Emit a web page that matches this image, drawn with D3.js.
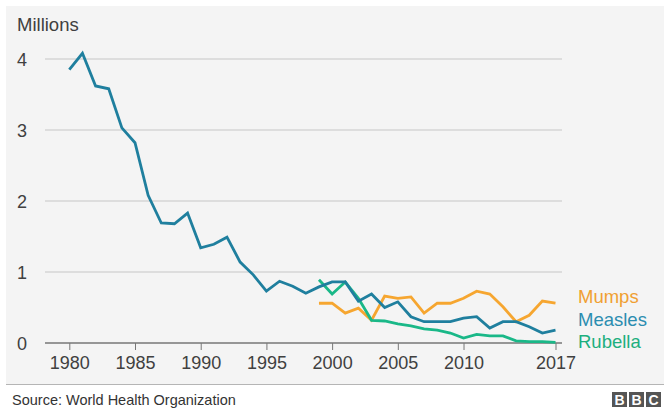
<!DOCTYPE html>
<html><head><meta charset="utf-8">
<script src="https://cdn.jsdelivr.net/npm/d3@7"></script>
<style>
html,body{margin:0;padding:0;background:#fff;}
svg{display:block;font-family:"Liberation Sans",Arial,Helvetica,sans-serif;}
</style></head>
<body>
<svg id="chart" width="664" height="410"></svg>
<script>
const measlesYears = d3.range(1980, 2018);
const measles = [3.85,4.08,3.62,3.58,3.03,2.82,2.08,1.69,1.68,1.83,1.34,1.39,1.49,1.14,0.96,0.73,0.87,0.80,0.70,0.79,0.86,0.86,0.59,0.69,0.50,0.58,0.37,0.30,0.30,0.30,0.35,0.37,0.21,0.30,0.30,0.23,0.14,0.18];
const lateYears = d3.range(1999, 2018);
const mumps = [0.56,0.56,0.42,0.49,0.32,0.66,0.63,0.65,0.42,0.56,0.56,0.63,0.73,0.69,0.51,0.30,0.39,0.59,0.56];
const rubella = [0.89,0.69,0.86,0.63,0.32,0.31,0.27,0.24,0.20,0.18,0.14,0.07,0.12,0.10,0.10,0.03,0.02,0.02,0.01];
const yTicks = [0,1,2,3,4];
const xTicks = [1980,1985,1990,1995,2000,2005,2010,2017];
const seriesNames = ["Mumps","Measles","Rubella"];

const svg = d3.select("#chart");
svg.append("rect").attr("x",6).attr("y",6).attr("width",658).attr("height",378).attr("fill","#f4f4f4");
svg.append("line").attr("x1",6).attr("x2",664).attr("y1",384.5).attr("y2",384.5).attr("stroke","#b5b5b5").attr("stroke-width",1);

const x = d3.scaleLinear().domain([1980,2017]).range([69.3,555.5]);
const y = d3.scaleLinear().domain([0,4]).range([343,59]);

// gridlines
svg.append("g").selectAll("line").data(yTicks.filter(d=>d>0)).join("line")
  .attr("x1",45).attr("x2",562).attr("y1",d=>y(d)).attr("y2",d=>y(d))
  .attr("stroke","#d6d6d6").attr("stroke-width",1.5);

// y labels
svg.append("g").selectAll("text").data(yTicks).join("text")
  .attr("x",17).attr("y",d=>y(d)+6.5).text(d=>d)
  .attr("font-size",18).attr("fill","#404040");
svg.append("text").attr("x",17).attr("y",30.5).text("Millions").attr("font-size",18.5).attr("fill","#404040");

// x axis
const xAxis = d3.axisBottom(x).tickValues(xTicks).tickFormat(d3.format("d")).tickSize(7).tickPadding(6);
const gx = svg.append("g").attr("transform","translate(0,343)").call(xAxis);
gx.select(".domain").remove();
gx.selectAll(".tick line").attr("stroke","#777").attr("stroke-width",1);
gx.selectAll(".tick text").attr("font-size",18).attr("fill","#404040").attr("font-family","Liberation Sans, Arial, sans-serif");
svg.append("line").attr("x1",45).attr("x2",562).attr("y1",343).attr("y2",343).attr("stroke","#777").attr("stroke-width",1.5);

const line = d3.line().x(d=>x(d[0])).y(d=>y(d[1]));
const series = [
  {name:"Measles", years:measlesYears, vals:measles, color:"#1f7f9e"},
  {name:"Mumps", years:lateYears, vals:mumps, color:"#f6a630"},
  {name:"Rubella", years:lateYears, vals:rubella, color:"#1ab888"}
];
const order = ["Mumps","Rubella","Measles"];
order.forEach(n=>{
  const s = series.find(q=>q.name===n);
  svg.append("path").datum(s.years.map((yr,i)=>[yr,s.vals[i]]))
    .attr("d",line).attr("fill","none").attr("stroke",s.color)
    .attr("stroke-width",2.8).attr("stroke-linejoin","miter");
});

const legendColors = {Mumps:"#f0a032",Measles:"#2b8db0",Rubella:"#1daf7e"};
svg.append("g").selectAll("text").data(seriesNames).join("text")
  .attr("x",578).attr("y",(d,i)=>303+i*22.5).text(d=>d)
  .attr("font-size",18.5).attr("fill",d=>legendColors[d]);

svg.append("text").attr("x",12).attr("y",404.5).text("Source: World Health Organization")
  .attr("font-size",14.5).attr("fill","#333");

// BBC logo
const logo = svg.append("g");
["B","B","C"].forEach((c,i)=>{
  logo.append("rect").attr("x",612+i*17).attr("y",392).attr("width",15).attr("height",15).attr("fill","#555");
  logo.append("text").attr("x",612+i*17+7.5).attr("y",405).attr("text-anchor","middle")
    .attr("font-size",14).attr("font-weight","bold").attr("fill","#fff").text(c);
});
</script>
</body></html>
